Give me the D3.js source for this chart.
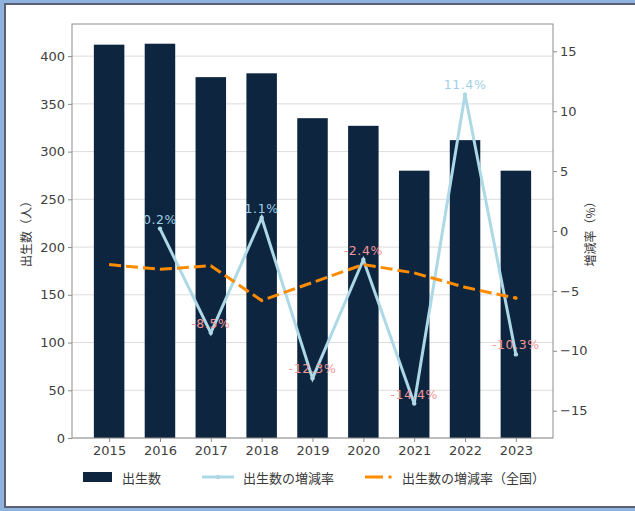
<!DOCTYPE html>
<html>
<head>
<meta charset="utf-8">
<script src="https://cdn.jsdelivr.net/npm/d3@7"></script>
<style>
  html, body { margin: 0; padding: 0; background: #fff; }
  svg { display: block; }
</style>
</head>
<body>
<svg id="chart" width="635" height="511"></svg>
<script>
// 出生数と増減率（年次）
const years = ["2015", "2016", "2017", "2018", "2019", "2020", "2021", "2022", "2023"];
const births = [412, 413, 378, 382, 335, 327, 280, 312, 280];
const rateYears = ["2016", "2017", "2018", "2019", "2020", "2021", "2022", "2023"];
const rates = [0.2, -8.5, 1.1, -12.3, -2.4, -14.4, 11.4, -10.3];
const nationalRates = [-2.8, -3.2, -2.9, -5.8, -4.3, -2.8, -3.5, -4.7, -5.6];
const leftTicks = [0, 50, 100, 150, 200, 250, 300, 350, 400];
const rightTicks = [-15, -10, -5, 0, 5, 10, 15];
const legendLabels = ["出生数", "出生数の増減率", "出生数の増減率（全国）"];

const W = 635, H = 511;
const plot = { left: 72, right: 553, top: 24, bottom: 438 };
const colors = { bar: "#0e2540", rate: "#add8e6", national: "#ff8c00", pos: "#9fd0e4", neg: "#f29696" };
const tickFont = "'DejaVu Sans', sans-serif";
const jpFont = "'Noto Sans CJK JP', 'Noto Sans', sans-serif";

const svg = d3.select("#chart");

// window-style frame (left, top and bottom edges)
svg.append("rect").attr("x", 0).attr("y", 0).attr("width", W).attr("height", H).attr("fill", "#8fb2de");
svg.append("rect").attr("x", 4).attr("y", 3).attr("width", W - 4).attr("height", 505).attr("fill", "#5a6272");
svg.append("rect").attr("x", 6).attr("y", 5).attr("width", W - 6).attr("height", 501).attr("fill", "#ffffff");

const idx = d3.range(years.length);
const x = d3.scaleLinear().domain([-0.73, years.length - 1 + 0.73]).range([plot.left, plot.right]);
const yL = d3.scaleLinear().domain([0, d3.max(births) * 1.05]).range([plot.bottom, plot.top]);
const rMax = d3.max(rates.map(Math.abs)) * 1.2;
const yR = d3.scaleLinear().domain([-rMax, rMax]).range([plot.bottom, plot.top]);
const xi = y => x(years.indexOf(y));
const minus = v => (v < 0 ? "\u2212" + Math.abs(v) : String(v));

// horizontal grid
svg.append("g").selectAll("line").data(leftTicks).join("line")
  .attr("x1", plot.left).attr("x2", plot.right)
  .attr("y1", d => yL(d)).attr("y2", d => yL(d))
  .attr("stroke", "#dcdcdc").attr("stroke-width", 1);

// bars
const bw = 0.6;
svg.append("g").selectAll("rect").data(idx).join("rect")
  .attr("x", i => x(i - bw / 2)).attr("width", i => x(i + bw / 2) - x(i - bw / 2))
  .attr("y", i => yL(births[i])).attr("height", i => yL(0) - yL(births[i]))
  .attr("fill", colors.bar);

// frame
svg.append("rect").attr("x", plot.left).attr("y", plot.top)
  .attr("width", plot.right - plot.left).attr("height", plot.bottom - plot.top)
  .attr("fill", "none").attr("stroke", "#8c8c8c").attr("stroke-width", 1);

// axes
const axL = svg.append("g").attr("transform", `translate(${plot.left},0)`)
  .call(d3.axisLeft(yL).tickValues(leftTicks).tickSize(4).tickPadding(3));
const axR = svg.append("g").attr("transform", `translate(${plot.right},0)`)
  .call(d3.axisRight(yR).tickValues(rightTicks).tickFormat(minus).tickSize(4).tickPadding(3));
const axB = svg.append("g").attr("transform", `translate(0,${plot.bottom})`)
  .call(d3.axisBottom(x).tickValues(idx).tickFormat(i => years[i]).tickSize(4).tickPadding(4));
[axL, axR, axB].forEach(a => {
  a.select(".domain").remove();
  a.selectAll(".tick line").attr("stroke", "#8c8c8c");
  a.selectAll(".tick text").attr("fill", "#404040").style("font-family", tickFont).style("font-size", "13px");
});

// axis titles
svg.append("text").attr("transform", `translate(28,${(plot.top + plot.bottom) / 2}) rotate(-90)`)
  .attr("text-anchor", "middle").attr("dominant-baseline", "middle")
  .style("font-family", jpFont).style("font-size", "12px").attr("fill", "#3a3a3a").text("出生数（人）");
svg.append("text").attr("transform", `translate(592,${(plot.top + plot.bottom) / 2}) rotate(-90)`)
  .attr("text-anchor", "middle").attr("dominant-baseline", "middle")
  .style("font-family", jpFont).style("font-size", "12px").attr("fill", "#3a3a3a").text("増減率（%）");

// rate line
const rateLine = d3.line().x((d, i) => xi(rateYears[i])).y(d => yR(d));
svg.append("path").datum(rates).attr("d", rateLine)
  .attr("fill", "none").attr("stroke", colors.rate).attr("stroke-width", 3).attr("stroke-linejoin", "miter");
svg.append("g").selectAll("circle").data(rates).join("circle")
  .attr("cx", (d, i) => xi(rateYears[i])).attr("cy", d => yR(d)).attr("r", 2.2).attr("fill", colors.rate);

// national rate line
const natLine = d3.line().x((d, i) => x(i)).y(d => yR(d));
svg.append("path").datum(nationalRates).attr("d", natLine)
  .attr("fill", "none").attr("stroke", colors.national).attr("stroke-width", 3)
  .attr("stroke-dasharray", "12,5");
svg.append("circle").attr("cx", x(nationalRates.length - 1)).attr("cy", yR(nationalRates[nationalRates.length - 1]))
  .attr("r", 1.8).attr("fill", colors.national);

// rate labels
svg.append("g").selectAll("text").data(rates).join("text")
  .attr("x", (d, i) => xi(rateYears[i])).attr("y", d => yR(d) - 5)
  .attr("text-anchor", "middle")
  .style("font-family", tickFont).style("font-size", "12.5px").style("letter-spacing", "0.6px")
  .attr("fill", d => (d >= 0 ? colors.pos : colors.neg))
  .text(d => d.toFixed(1) + "%");

// legend
const lg = svg.append("g").style("font-family", jpFont).style("font-size", "13px");
const ly = 477;
lg.append("rect").attr("x", 83).attr("y", ly - 5).attr("width", 29).attr("height", 10).attr("fill", colors.bar);
lg.append("text").attr("x", 122).attr("y", ly).attr("dominant-baseline", "central").attr("fill", "#3a3a3a").text(legendLabels[0]);
lg.append("line").attr("x1", 202).attr("x2", 234).attr("y1", ly).attr("y2", ly).attr("stroke", colors.rate).attr("stroke-width", 3);
lg.append("circle").attr("cx", 218).attr("cy", ly).attr("r", 2.2).attr("fill", colors.rate);
lg.append("text").attr("x", 243).attr("y", ly).attr("dominant-baseline", "central").attr("fill", "#3a3a3a").text(legendLabels[1]);
lg.append("line").attr("x1", 365).attr("x2", 383).attr("y1", ly).attr("y2", ly).attr("stroke", colors.national).attr("stroke-width", 3);
lg.append("circle").attr("cx", 390).attr("cy", ly).attr("r", 1.8).attr("fill", colors.national);
lg.append("text").attr("x", 402).attr("y", ly).attr("dominant-baseline", "central").attr("fill", "#3a3a3a").text(legendLabels[2]);
</script>
</body>
</html>
